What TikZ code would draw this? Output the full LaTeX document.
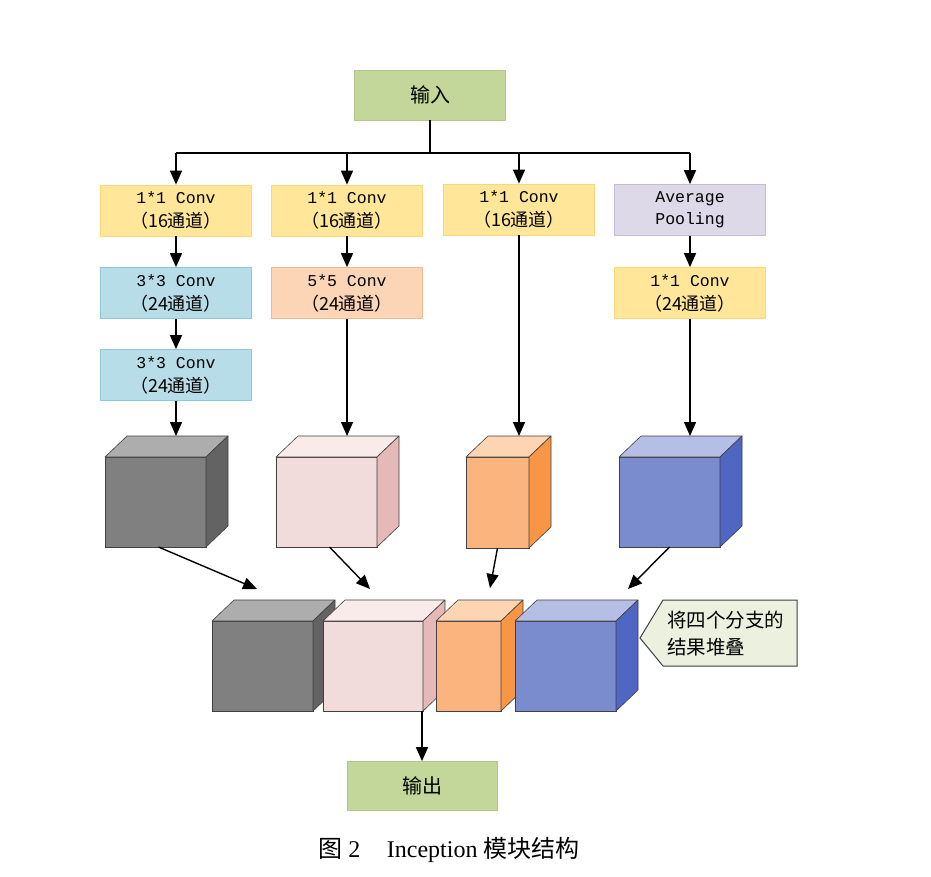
\documentclass[tikz,border=0pt]{standalone}
\usepackage{fontspec}
\setmonofont{Liberation Mono}
\newfontfamily\cjk{Noto Sans CJK SC}
\newfontfamily\capserif{Liberation Serif}
\usetikzlibrary{arrows.meta,calc}
\definecolor{gfill}{HTML}{C4D79B}\definecolor{gdraw}{HTML}{B0C985}
\definecolor{yfill}{HTML}{FFE699}\definecolor{ydraw}{HTML}{F7D77A}
\definecolor{bfill}{HTML}{B7DEE8}\definecolor{bdraw}{HTML}{8CC8D9}
\definecolor{pfill}{HTML}{FBD5B5}\definecolor{pdraw}{HTML}{F0B890}
\definecolor{lfill}{HTML}{DDD9E8}\definecolor{ldraw}{HTML}{C5BDD8}
\definecolor{cfill}{HTML}{EBF1DE}
\definecolor{edgec}{HTML}{404040}
\definecolor{grF}{HTML}{808080}\definecolor{grT}{HTML}{ADADAD}\definecolor{grS}{HTML}{636363}
\definecolor{piF}{HTML}{F2DCDB}\definecolor{piT}{HTML}{F8EBEA}\definecolor{piS}{HTML}{E4B9B7}
\definecolor{orF}{HTML}{FBB47D}\definecolor{orT}{HTML}{FDD5B2}\definecolor{orS}{HTML}{F79646}
\definecolor{blF}{HTML}{7A8CCE}\definecolor{blT}{HTML}{B5BFE6}\definecolor{blS}{HTML}{4F66C2}
% cube: name, x1, y1, x2, y2, front, top, side
\newcommand\mycube[8]{%
  \node[cubefront, fill=#6, minimum width={#4-#2}, minimum height={#5-#3}, anchor=north west] (#1) at (#2,#3) {};
  \draw[cubeedge, fill=#7] (#1.north west) -- (#1.north east) -- ++(22,-21) -- ($(#1.north west)+(22,-21)$) -- cycle;
  \draw[cubeedge, fill=#8] (#1.north east) -- (#1.south east) -- ++(22,-21) -- ($(#1.north east)+(22,-21)$) -- cycle;
}
\newcommand\cn[1]{{\cjk\fontsize{18}{22}\selectfont #1}}
\begin{document}
\begin{tikzpicture}[x=1pt,y=-1pt,
  lbl/.style={minimum width=151pt, minimum height=51pt, inner sep=0pt, align=center, line width=0.7pt,
    font=\ttfamily\fontsize{16.5}{22}\selectfont},
  ybox/.style={lbl, fill=yfill, draw=ydraw},
  bbox/.style={lbl, fill=bfill, draw=bdraw},
  pbox/.style={lbl, fill=pfill, draw=pdraw},
  lbox/.style={lbl, fill=lfill, draw=ldraw},
  gbox/.style={lbl, fill=gfill, draw=gdraw, minimum height=50pt, font=\cjk\fontsize{20}{24}\selectfont},
  arr/.style={line width=1.4pt, -{Triangle[length=14pt,width=12pt]}},
  line/.style={line width=1.4pt},
  cubefront/.style={draw=edgec, line width=0.6pt, inner sep=0pt, outer sep=0pt},
  cubeedge/.style={draw=edgec, line width=0.6pt, line join=round},
]
\useasboundingbox (0,0) rectangle (931,877);
\fill[white] (0,0) rectangle (931,877);

% boxes
\node[gbox] (in) at (430,95) {输入};
\node[ybox] (a1) at (176,210.5) {1*1 Conv\\[2pt]\cn{（16通道）}};
\node[ybox] (b1) at (347,210.5) {1*1 Conv\\[2pt]\cn{（16通道）}};
\node[ybox] (c1) at (519,209.5) {1*1 Conv\\[2pt]\cn{（16通道）}};
\node[lbox] (d1) at (690,210) {Average\\Pooling};
\node[bbox] (a2) at (176,293) {3*3 Conv\\[2pt]\cn{（24通道）}};
\node[pbox] (b2) at (347,293) {5*5 Conv\\[2pt]\cn{（24通道）}};
\node[ybox] (d2) at (690,293) {1*1 Conv\\[2pt]\cn{（24通道）}};
\node[bbox] (a3) at (176,375) {3*3 Conv\\[2pt]\cn{（24通道）}};
\node[gbox, minimum width=150pt, minimum height=49pt] (out) at (422,786) {输出};

% bus
\coordinate (busL) at (176,153);
\coordinate (busR) at (690,153);
\draw[line] (in.south) -- (in.south |- busL);
\draw[line] (busL) -- (busR);
\draw[arr] (busL) -- (a1.north);
\draw[arr] (b1.north |- busL) -- (b1.north);
\draw[arr] (c1.north |- busL) -- (c1.north);
\draw[arr] (busR) -- (d1.north);
\draw[arr] (a1) -- (a2);
\draw[arr] (a2) -- (a3);
\draw[arr] (b1) -- (b2);
\draw[arr] (d1) -- (d2);

% top cubes
\mycube{gt}{105}{457}{206}{547}{grF}{grT}{grS}
\mycube{pt}{276}{457}{377}{547}{piF}{piT}{piS}
\mycube{ot}{466}{457}{529}{548}{orF}{orT}{orS}
\mycube{bt}{619}{457}{720}{547}{blF}{blT}{blS}

\coordinate (gtin) at (176,436);
\coordinate (ptin) at (347,436);
\coordinate (otin) at (519,436);
\coordinate (btin) at (690,436);
\draw[arr] (a3.south) -- (gtin);
\draw[arr] (b2.south) -- (ptin);
\draw[arr] (c1.south) -- (otin);
\draw[arr] (d2.south) -- (btin);

% bottom stacked cubes
\mycube{gb}{212}{621}{313}{711}{grF}{grT}{grS}
\mycube{pb}{323}{621}{423}{711}{piF}{piT}{piS}
\mycube{ob}{436}{621}{501}{711}{orF}{orT}{orS}
\mycube{bb}{515}{621}{616}{711}{blF}{blT}{blS}

\coordinate (gbin) at (257,589);
\coordinate (pbin) at (370,589);
\coordinate (obin) at (490,588);
\coordinate (bbin) at (628,589);
\draw[arr] ($(gt.south)+(3,0)$) -- (gbin);
\draw[arr] ($(pt.south)+(3,0)$) -- (pbin);
\draw[arr] (ot.south) -- (obin);
\draw[arr] (bt.south) -- (bbin);

\draw[arr] (out.north |- pb.south) -- (out.north);

% callout
\draw[fill=cfill, draw=edgec, line width=1pt, line join=miter]
  (640,638) -- (663,600) -- (797,600) -- (797,666) -- (663,666) -- cycle;
\node[align=left, inner sep=0pt, anchor=west, font=\cjk\fontsize{19.5}{27}\selectfont] (note) at (667,634) {将四个分支的\\结果堆叠};

% caption
\node[inner sep=0pt, font=\capserif\fontsize{24}{28}\selectfont] (cap) at (449,850) {{\cjk 图}~2\hspace{1.1em}Inception~{\cjk 模块结构}};
\end{tikzpicture}
\end{document}
